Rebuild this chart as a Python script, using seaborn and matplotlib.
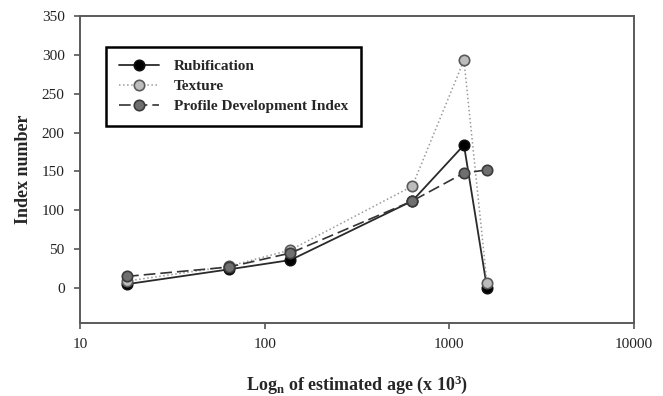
import numpy as np
import pandas as pd
import matplotlib
matplotlib.use("Agg")
import matplotlib.pyplot as plt
import seaborn as sns

# Data
age = [18, 64, 138, 630, 1200, 1600]
rubification = [5, 24, 36, 112, 184, 0]
texture = [9, 28, 49, 131, 293, 6]
pdi = [15, 27, 45, 112, 148, 152]
series_names = ["Rubification", "Texture", "Profile Development Index"]
y_ticks = [0, 50, 100, 150, 200, 250, 300, 350]
x_ticks = [10, 100, 1000, 10000]
x_tick_labels = ["10", "100", "1000", "10000"]

sns.set_style("white")
plt.rcParams["font.family"] = ["Liberation Serif", "DejaVu Serif"]
plt.rcParams["mathtext.fontset"] = "custom"
plt.rcParams["mathtext.rm"] = "Liberation Serif:bold"
plt.rcParams["mathtext.it"] = "Liberation Serif:bold"
plt.rcParams["mathtext.bf"] = "Liberation Serif:bold"
plt.rcParams["mathtext.default"] = "rm"

fig = plt.figure(figsize=(6.63, 3.96), dpi=100)
ax = fig.add_axes([80 / 663, 1 - 323 / 396, 554 / 663, 307 / 396])

styles = [
    dict(color="#2a2a2a", linestyle="-", lw=1.3, mfc="#000000", mec="#111111"),
    dict(color="#9a9a9a", linestyle=":", lw=1.1, mfc="#bdbdbd", mec="#5a5a5a"),
    dict(color="#333333", linestyle=(0, (7, 3)), lw=1.2, mfc="#6f6f6f", mec="#3a3a3a"),
]
for name, vals, st in zip(series_names, [rubification, texture, pdi], styles):
    df = pd.DataFrame({"age": age, "value": vals})
    sns.lineplot(data=df, x="age", y="value", ax=ax, sort=False, estimator=None,
                 color=st["color"], linestyle=st["linestyle"], linewidth=st["lw"],
                 marker="o", markersize=7.5, markerfacecolor=st["mfc"],
                 markeredgecolor=st["mec"], markeredgewidth=1.2, label=name)

ax.set_xscale("log")
ax.set_xlim(10, 10000)
ax.set_ylim(-45, 350)
ax.set_yticks(y_ticks)
ax.set_xticks(x_ticks)
ax.set_xticklabels(x_tick_labels)
ax.minorticks_off()
ax.tick_params(axis="both", which="major", direction="out", length=4, width=1.2,
               color="#555555", labelsize=11, pad=7, left=True, bottom=True,
               labelcolor="#222222")
for sp in ax.spines.values():
    sp.set_color("#5a5a5a")
    sp.set_linewidth(1.4)
    sp.set_visible(True)

ax.set_ylabel("Index number", fontsize=13, fontweight="bold", labelpad=7)
ax.set_xlabel("Log$_{n}$ of estimated age (x 10$^{3}$)", fontsize=13,
              fontweight="bold", labelpad=16)

leg = ax.legend(loc="upper left", bbox_to_anchor=(0.047, 0.9), borderaxespad=0,
                frameon=True, fancybox=False, edgecolor="black",
                prop={"weight": "bold", "size": 11}, handlelength=2.6,
                labelspacing=0.4, borderpad=0.85, handletextpad=1.0)
leg.get_frame().set_linewidth(1.8)
leg.get_frame().set_facecolor("white")
leg.get_frame().set_alpha(1)

fig.savefig("out.png", dpi=100)
